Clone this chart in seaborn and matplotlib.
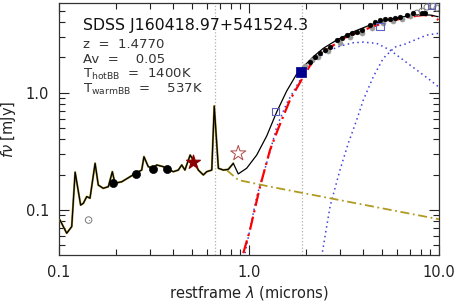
import numpy as np
import pandas as pd
import matplotlib
matplotlib.use('Agg')
import matplotlib.pyplot as plt
import matplotlib.ticker as mticker
import seaborn as sns

# total model spectrum (restframe microns, mJy)
spec_wave = [0.1012, 0.1054, 0.1098, 0.1167, 0.1216, 0.130, 0.1343, 0.140, 0.1456, 0.1549,
             0.161, 0.171, 0.1818, 0.1909, 0.197, 0.214, 0.2365, 0.2535, 0.2725, 0.280,
             0.295, 0.3134, 0.3266, 0.354, 0.3715, 0.3996, 0.4246, 0.4426, 0.460, 0.490,
             0.509, 0.541, 0.575, 0.599, 0.637, 0.6563, 0.690, 0.733, 0.778, 0.827,
             0.878, 0.972, 1.098, 1.239, 1.399, 1.579, 1.782, 1.932, 2.18, 2.46,
             2.894, 3.54, 4.335, 5.306, 6.49, 7.63, 8.97, 9.9]
spec_flux = [0.0822, 0.0721, 0.0633, 0.0721, 0.210, 0.110, 0.114, 0.130, 0.126, 0.250,
             0.163, 0.153, 0.158, 0.212, 0.169, 0.174, 0.192, 0.2055, 0.219, 0.2847,
             0.234, 0.2268, 0.242, 0.234, 0.224, 0.212, 0.219, 0.242, 0.219, 0.294,
             0.267, 0.219, 0.199, 0.212, 0.219, 0.770, 0.2268, 0.219, 0.222, 0.250,
             0.203, 0.2268, 0.294, 0.427, 0.685, 1.034, 1.443, 1.666, 2.027, 2.39,
             2.814, 3.31, 3.78, 4.17, 4.45, 4.60, 4.60, 4.45]

# power-law extension of the quasar template
pl_wave = [0.763, 0.878, 1.29, 10.0]
pl_flux = [0.219, 0.180, 0.158, 0.0833]

# hot + warm blackbody sum
bb_wave = [0.933, 1.012, 1.143, 1.29, 1.427, 1.643, 1.931, 2.18, 2.564, 3.135,
           3.997, 5.306, 7.038, 8.27, 9.33, 9.92]
bb_flux = [0.0428, 0.0675, 0.158, 0.3247, 0.497, 0.867, 1.369, 1.901, 2.312, 2.91,
           3.423, 4.03, 4.45, 4.60, 4.51, 4.17]

# hot blackbody (1400K)
hot_wave = [0.953, 1.098, 1.29, 1.399, 1.579, 1.855, 2.18, 2.564, 3.012, 3.54,
            3.997, 4.70, 5.523, 6.49, 7.63, 8.97, 9.92]
hot_flux = [0.0428, 0.130, 0.314, 0.513, 0.812, 1.283, 1.838, 2.237, 2.50, 2.669,
            2.70, 2.637, 2.312, 1.901, 1.563, 1.283, 1.125]

# warm blackbody (537K)
warm_wave = [2.413, 2.669, 3.012, 3.331, 3.688, 3.997, 4.51, 5.09, 5.86, 6.62, 8.61, 9.92]
warm_flux = [0.040, 0.1067, 0.2193, 0.3705, 0.585, 0.867, 1.369, 1.965, 2.45, 2.60, 3.10, 3.21]

# photometry
opt_wave = [0.193, 0.2535, 0.311, 0.3715]
opt_flux = [0.171, 0.2015, 0.224, 0.224]

irs_wave = [2.095, 2.226, 2.364, 2.512, 2.669, 2.894, 3.075, 3.267, 3.471, 3.688,
            3.92, 4.335, 4.605, 4.893, 5.198, 5.523, 5.868, 6.233, 6.76, 7.32, 8.11, 8.43]
irs_flux = [1.838, 2.027, 2.168, 2.312, 2.466, 2.814, 2.910, 3.104, 3.209, 3.311,
            3.423, 3.777, 4.03, 4.168, 4.225, 4.276, 4.31, 4.394, 4.60, 4.75, 4.81, 4.75]

gray_wave = [1.971, 2.146, 2.307, 2.605, 3.012, 3.401, 3.933, 4.441, 5.074, 5.728, 6.388, 7.038]
gray_flux = [1.689, 1.901, 2.016, 2.268, 2.653, 2.985, 3.228, 3.561, 3.928, 4.087, 4.25, 4.507]

gray_open_wave = [7.65, 8.14, 8.65, 9.3, 9.76]
gray_open_flux = [4.78, 4.97, 5.38, 5.48, 5.27]

sq_open_wave = [1.382, 4.89, 9.14]
sq_open_flux = [0.689, 3.70, 5.59]

sq_fill_wave = [1.871]
sq_fill_flux = [1.51]

star_fill = (0.509, 0.258)
star_open = (0.878, 0.304)
limit_pt = (0.1432, 0.082)

fit_bounds = [0.662, 1.89]

title = 'SDSS J160418.97+541524.3'
info_lines = ['z  =  1.4770', 'Av  =    0.05', 'T$_{\\rm hotBB}$  =  1400K',
              'T$_{\\rm warmBB}$  =    537K']

sns.set_style('ticks')
plt.rcParams['font.family'] = ['DejaVu Sans']

fig, ax = plt.subplots(figsize=(4.58, 3.05), dpi=100)
fig.subplots_adjust(left=0.1288, right=0.9585, top=0.990, bottom=0.164)
ax.set_xscale('log')
ax.set_yscale('log')

for b in fit_bounds:
    ax.axvline(b, color='#b0b0b0', ls=':', lw=0.9, zorder=1)

sns.lineplot(x=hot_wave, y=hot_flux, sort=False, ax=ax, color='#4040e0', lw=1.1,
             linestyle=(0, (1, 2.2)), zorder=2)
sns.lineplot(x=warm_wave, y=warm_flux, sort=False, ax=ax, color='#4040e0', lw=1.1,
             linestyle=(0, (1, 2.2)), zorder=2)
sns.lineplot(x=pl_wave, y=pl_flux, sort=False, ax=ax, color='#b09a20', lw=1.3,
             linestyle=(0, (5, 2, 1, 2)), zorder=3)
sns.lineplot(x=bb_wave, y=bb_flux, sort=False, ax=ax, color='#ff0000', lw=1.6,
             linestyle=(0, (6, 2, 1, 2)), zorder=3)
sns.lineplot(x=spec_wave[:40], y=spec_flux[:40], sort=False, ax=ax, color='#a89428',
             lw=1.5, zorder=4)
sns.lineplot(x=spec_wave, y=spec_flux, sort=False, ax=ax, color='black', lw=0.9, zorder=5)

sns.scatterplot(x=gray_wave, y=gray_flux, ax=ax, color='#999999', s=14, edgecolor='#999999',
                zorder=5)
sns.scatterplot(x=gray_open_wave, y=gray_open_flux, ax=ax, facecolor='none', s=18,
                edgecolor='#888888', linewidth=0.8, zorder=5)
sns.scatterplot(x=irs_wave, y=irs_flux, ax=ax, color='black', s=12, edgecolor='black', zorder=6)
sns.scatterplot(x=opt_wave, y=opt_flux, ax=ax, color='black', s=34, edgecolor='black', zorder=6)
sns.scatterplot(x=sq_fill_wave, y=sq_fill_flux, ax=ax, color='#000090', marker='s', s=42,
                edgecolor='#000090', zorder=7)
sns.scatterplot(x=sq_open_wave, y=sq_open_flux, ax=ax, facecolor='none', marker='s', s=26,
                edgecolor='#6060c0', linewidth=0.8, zorder=7)
sns.scatterplot(x=[star_fill[0]], y=[star_fill[1]], ax=ax, color='#8b0000', marker='*', s=110,
                edgecolor='#8b0000', zorder=7)
sns.scatterplot(x=[star_open[0]], y=[star_open[1]], ax=ax, facecolor='none', marker='*', s=130,
                edgecolor='#b04848', linewidth=0.7, zorder=7)
sns.scatterplot(x=[limit_pt[0]], y=[limit_pt[1]], ax=ax, facecolor='none', marker='o', s=22,
                edgecolor='#777777', linewidth=0.7, zorder=7)
sns.scatterplot(x=[limit_pt[0]], y=[limit_pt[1]], ax=ax, color='#777777', marker='.', s=3,
                zorder=7)

ax.set_xlim(0.1, 10.0)
ax.set_ylim(0.0413, 5.82)

ax.xaxis.set_major_locator(mticker.FixedLocator([0.1, 1.0, 10.0]))
ax.xaxis.set_major_formatter(mticker.FixedFormatter(['0.1', '1.0', '10.0']))
ax.xaxis.set_minor_locator(mticker.LogLocator(base=10, subs=np.arange(2, 10)))
ax.xaxis.set_minor_formatter(mticker.NullFormatter())
ax.yaxis.set_major_locator(mticker.FixedLocator([0.1, 1.0]))
ax.yaxis.set_major_formatter(mticker.FixedFormatter(['0.1', '1.0']))
ax.yaxis.set_minor_locator(mticker.LogLocator(base=10, subs=np.arange(2, 10)))
ax.yaxis.set_minor_formatter(mticker.NullFormatter())
ax.tick_params(which='both', top=True, right=True, direction='in', colors='#222222',
               labelcolor='#222222')
ax.tick_params(which='major', length=7, width=0.8, labelsize=10.5, pad=7)
ax.tick_params(which='minor', length=4, width=0.8)
for sp in ax.spines.values():
    sp.set_linewidth(0.9)
    sp.set_color('#333333')

ax.set_xlabel('restframe $\\lambda$ (microns)', fontsize=10.5, color='#222222', labelpad=3)
ax.set_ylabel('$f\\nu$ [mJy]', fontsize=10.5, color='#222222', labelpad=6)

ax.text(0.062, 0.893, title, transform=ax.transAxes, fontsize=11.3,
        color='#111111', va='baseline')
ys = [0.821, 0.762, 0.702, 0.643]
for t, yy in zip(info_lines, ys):
    ax.text(0.062, yy, t, transform=ax.transAxes, fontsize=9.5, color='#333333', va='baseline')

fig.savefig('out.png', dpi=100)
